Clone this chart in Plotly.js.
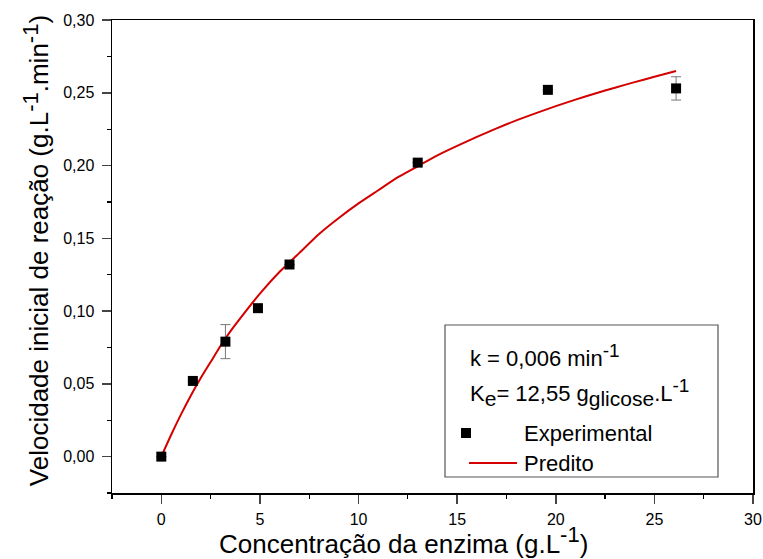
<!DOCTYPE html>
<html><head><meta charset="utf-8">
<script src="https://cdn.plot.ly/plotly-3.0.1.min.js"></script>
<style>html,body{margin:0;padding:0;background:#fff}#chart{width:763px;height:559px}</style>
</head><body><div id="chart"></div>
<script>
// Experimental data
const expX = [0, 1.6, 3.25, 4.9, 6.5, 13.0, 19.6, 26.1];
const expY = [0.000, 0.052, 0.079, 0.102, 0.132, 0.202, 0.252, 0.253];
const expErr = [0, 0, 0.0117, 0, 0, 0, 0, 0.008];
// Predicted curve
const predX = [0, 0.5, 1, 1.5, 2, 2.5, 3, 3.5, 4, 5, 6, 7, 8, 9, 10, 11, 12, 13, 14, 15, 16, 17, 18, 19, 20, 21, 22, 23, 24, 25, 26.1];
const predY = [0, 0.015, 0.029, 0.042, 0.054, 0.065, 0.076, 0.086, 0.095, 0.112, 0.127, 0.140, 0.153, 0.164, 0.174, 0.183, 0.192, 0.1995, 0.207, 0.2135, 0.2197, 0.2255, 0.231, 0.236, 0.2408, 0.2453, 0.2495, 0.2535, 0.2573, 0.261, 0.265];
const legendNames = ['Experimental', 'Predito'];

const font = 'Liberation Sans, Arial, sans-serif';
const red = '#d40000';
const sz = (t, s) => '<span style="font-size:' + s + 'px">' + t + '</span>';
const traces = [
  {x: predX, y: predY, type: 'scatter', mode: 'lines', name: legendNames[1],
   line: {color: red, width: 2, shape: 'spline', smoothing: 0.6}},
  {x: expX, y: expY, type: 'scatter', mode: 'markers', name: legendNames[0],
   marker: {symbol: 'square', size: 10, color: '#000'},
   error_y: {type: 'data', array: expErr, visible: true, color: '#777', thickness: 1, width: 5}}
];
const layout = {
  width: 763, height: 559,
  margin: {l: 112, r: 10, t: 20, b: 66},
  paper_bgcolor: '#fff', plot_bgcolor: '#fff',
  separators: ',.',
  font: {family: font, color: '#000', size: 16},
  showlegend: false,
  xaxis: {range: [-2.5, 30], dtick: 5, tick0: 0, ticks: 'outside', ticklen: 9, tickwidth: 1.5,
    showline: true, linecolor: '#000', linewidth: 1.5, mirror: true, showgrid: false, zeroline: false,
    minor: {dtick: 2.5, tick0: 0, ticks: 'outside', ticklen: 4, tickwidth: 1.2, tickcolor: '#000'},
    tickfont: {size: 16, family: font}, ticklabelstandoff: 2},
  yaxis: {range: [-0.025, 0.30], dtick: 0.05, tick0: 0, tickformat: '.2f', ticks: 'outside', ticklen: 9, tickwidth: 1.5,
    showline: true, linecolor: '#000', linewidth: 1.5, mirror: true, showgrid: false, zeroline: false,
    minor: {dtick: 0.025, tick0: 0, ticks: 'outside', ticklen: 4, tickwidth: 1.2, tickcolor: '#000'},
    tickfont: {size: 16, family: font}, ticklabelstandoff: 4},
  shapes: [
    {type: 'rect', xref: 'paper', yref: 'paper', x0: 0.5195, x1: 0.9454, y0: 0.0338, y1: 0.3552,
     line: {color: '#555', width: 1.2}, fillcolor: 'rgba(0,0,0,0)'},
    // legend symbols
    {type: 'rect', xref: 'paper', yref: 'paper', x0: 0.5445, x1: 0.5601, y0: 0.1163, y1: 0.1374,
     line: {width: 0}, fillcolor: '#000'},
    {type: 'line', xref: 'paper', yref: 'paper', x0: 0.5569, x1: 0.6318, y0: 0.0634, y1: 0.0634,
     line: {color: red, width: 2}}
  ],
  annotations: [
    {xref: 'paper', yref: 'paper', x: 0.454, y: -0.1, xanchor: 'center', yanchor: 'middle', showarrow: false,
     text: 'Concentração da enzima (g.L<sup>' + sz('-1', 22) + '</sup>)', font: {size: 26, family: font}},
    {xref: 'paper', yref: 'paper', x: -0.118, y: 0.512, xanchor: 'center', yanchor: 'middle', showarrow: false, textangle: -90,
     text: 'Velocidade inicial de reação (g.L<sup>' + sz('-1', 22) + '</sup>.min<sup>' + sz('-1', 22) + '</sup>)', font: {size: 26, family: font}},
    {xref: 'paper', yref: 'paper', x: 0.555, y: 0.29, xanchor: 'left', yanchor: 'middle', showarrow: false,
     text: 'k = 0,006 min<sup>' + sz('-1', 19) + '</sup>', font: {size: 22, family: font}},
    {xref: 'paper', yref: 'paper', x: 0.555, y: 0.213, xanchor: 'left', yanchor: 'middle', showarrow: false,
     text: 'K<sub>' + sz('e', 21) + '</sub>= 12,55 g<sub>' + sz('glicose', 21) + '</sub>.L<sup>' + sz('-1', 19) + '</sup>', font: {size: 22, family: font}},
    {xref: 'paper', yref: 'paper', x: 0.6396, y: 0.1268, xanchor: 'left', yanchor: 'middle', showarrow: false,
     text: legendNames[0], font: {size: 22, family: font}},
    {xref: 'paper', yref: 'paper', x: 0.6396, y: 0.0634, xanchor: 'left', yanchor: 'middle', showarrow: false,
     text: legendNames[1], font: {size: 22, family: font}}
  ]
};
Plotly.newPlot('chart', traces, layout, {displayModeBar: false, staticPlot: true});
</script></body></html>
